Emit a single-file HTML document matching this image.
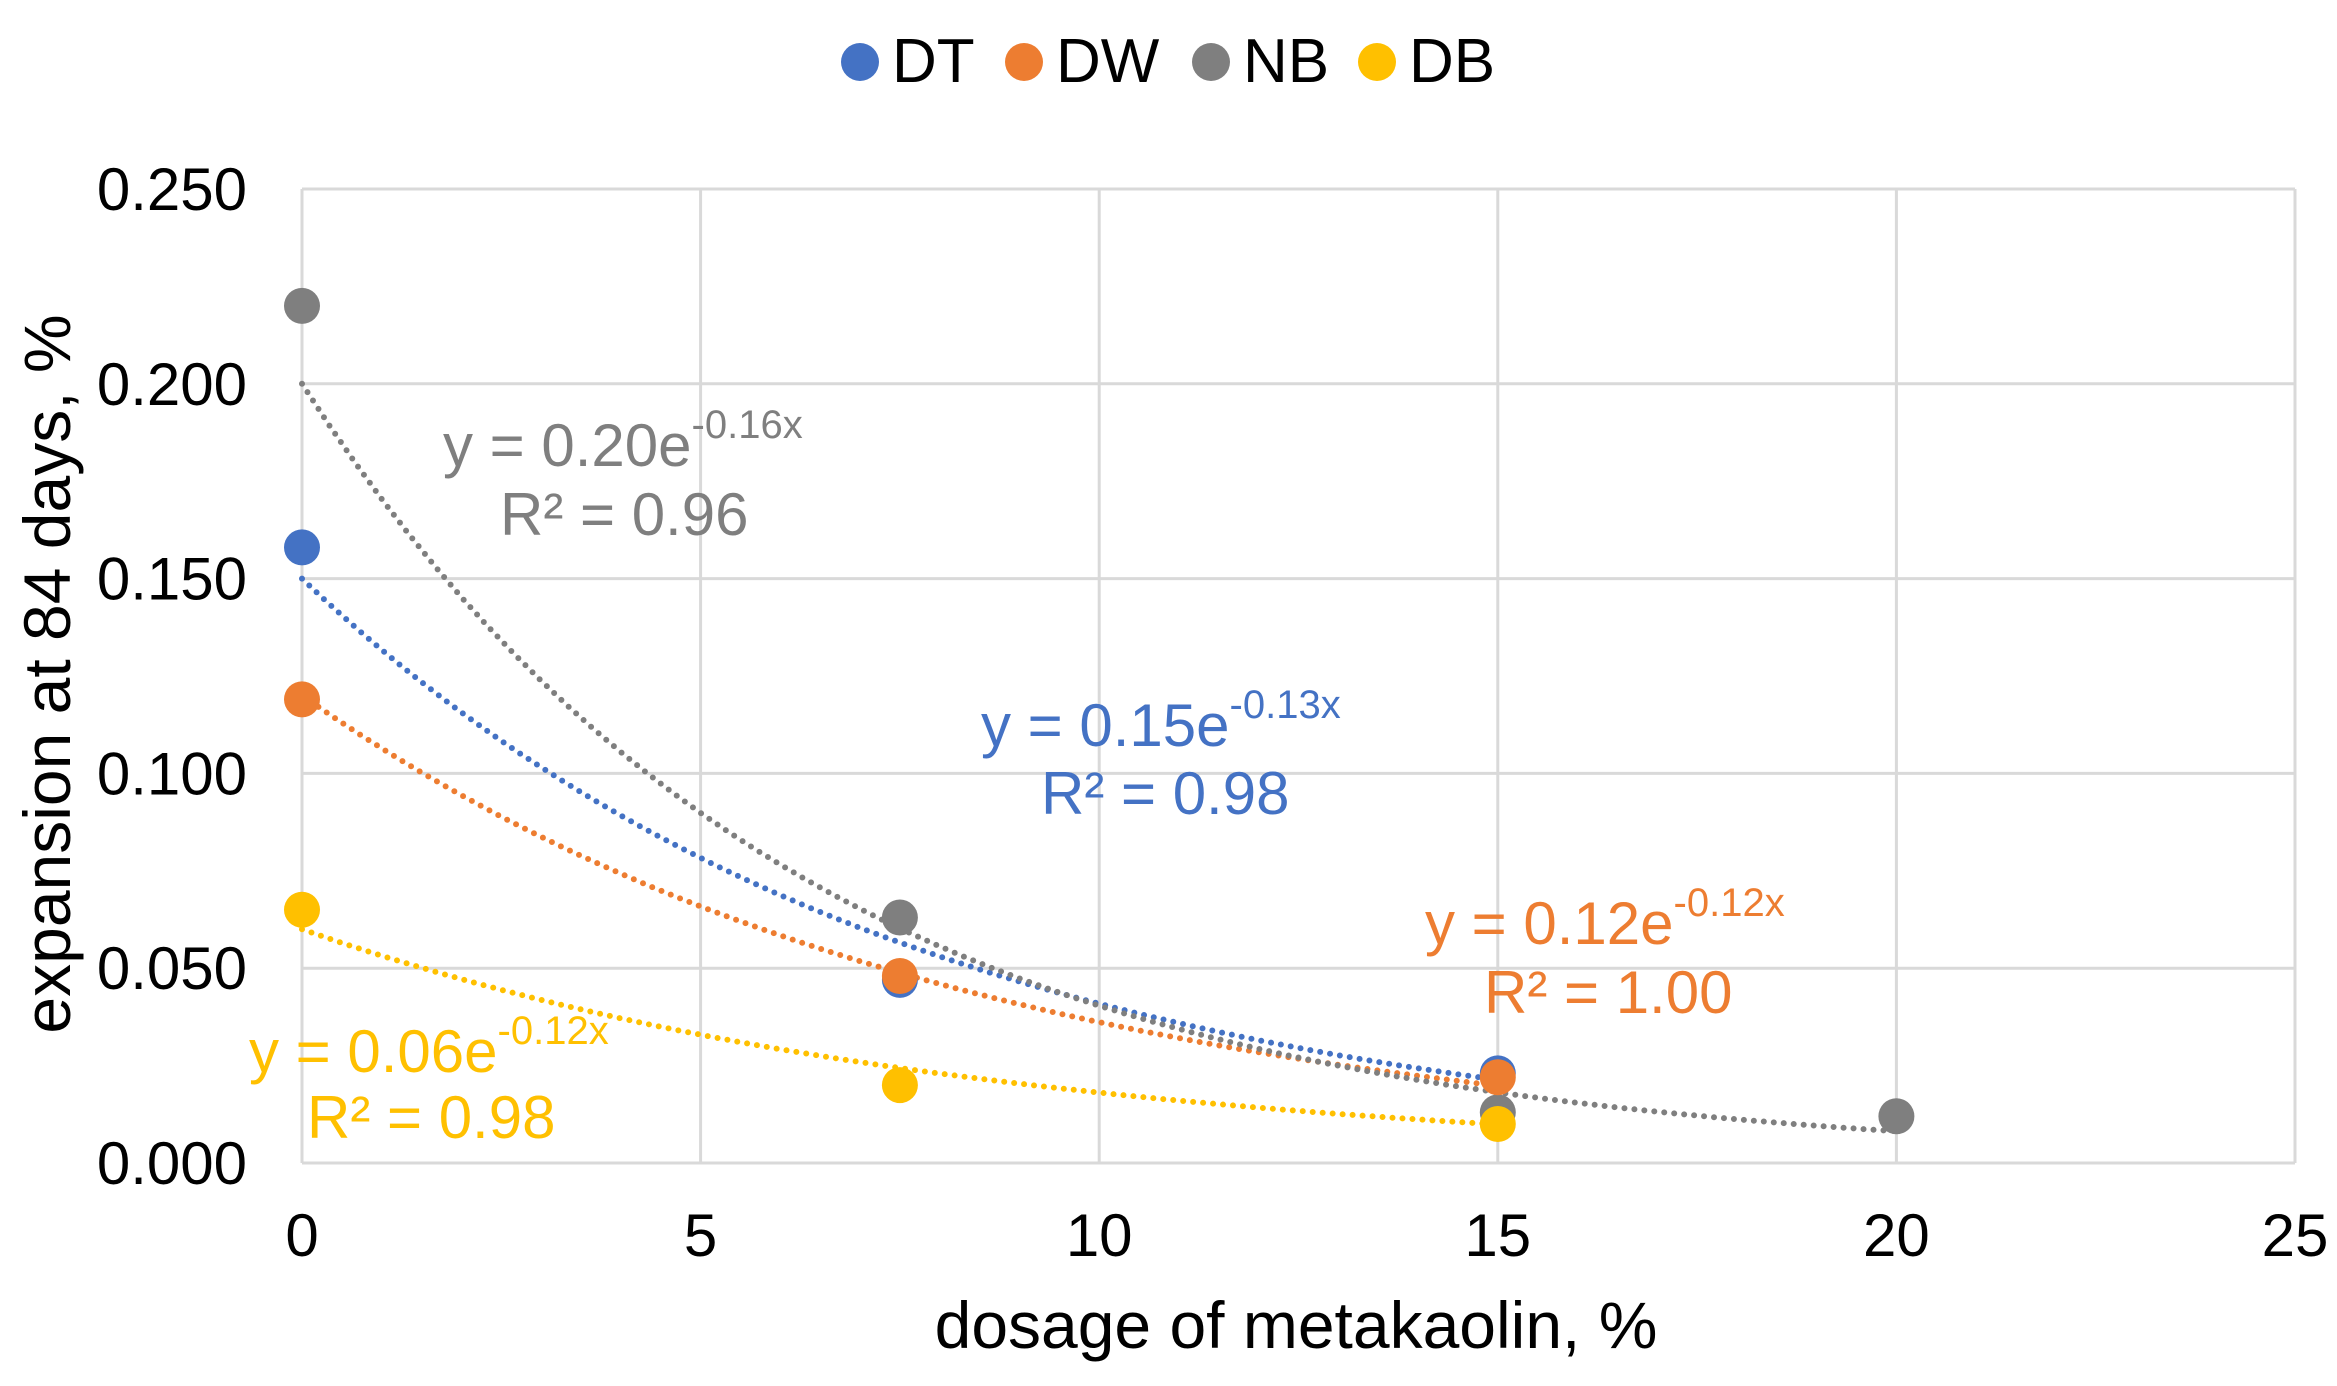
<!DOCTYPE html>
<html><head><meta charset="utf-8"><style>
html,body{margin:0;padding:0;background:#fff;}
svg{display:block;font-family:"Liberation Sans",Arial,sans-serif;}
</style></head><body>
<svg id="chart" width="2337" height="1386" viewBox="0 0 2337 1386" xmlns="http://www.w3.org/2000/svg">
<g id="grid"></g>
<g id="trends"></g>
<g id="points"></g>
<g id="ticks"></g>
<g id="legend"></g>
<text x="1296" y="1348" font-size="66" text-anchor="middle" fill="#000">dosage of metakaolin, %</text>
<text transform="translate(70,674) rotate(-90)" font-size="66" text-anchor="middle" fill="#000">expansion at 84 days, %</text>
<g fill="#7f7f7f" font-size="60">
<text x="443" y="466">y = 0.20e<tspan font-size="40" dy="-28">-0.16x</tspan></text>
<text x="500" y="535">R² = 0.96</text></g>
<g fill="#4472c4" font-size="60">
<text x="981" y="746">y = 0.15e<tspan font-size="40" dy="-28">-0.13x</tspan></text>
<text x="1041" y="814">R² = 0.98</text></g>
<g fill="#ed7d31" font-size="60">
<text x="1425" y="944">y = 0.12e<tspan font-size="40" dy="-28">-0.12x</tspan></text>
<text x="1484" y="1013">R² = 1.00</text></g>
<g fill="#ffc000" font-size="60">
<text x="249" y="1072">y = 0.06e<tspan font-size="40" dy="-28">-0.12x</tspan></text>
<text x="307" y="1138">R² = 0.98</text></g>
</svg>
<script>
const seriesNames = ["DT","DW","NB","DB"];
const seriesColors = ["#4472c4","#ed7d31","#7f7f7f","#ffc000"];
const xDT = [0,7.5,15];
const yDT = [0.158,0.047,0.023];
const xDW = [0,7.5,15];
const yDW = [0.119,0.048,0.022];
const xNB = [0,7.5,15,20];
const yNB = [0.220,0.063,0.013,0.012];
const xDB = [0,7.5,15];
const yDB = [0.065,0.020,0.010];
const trendA = [0.15,0.12,0.20,0.06];
const trendB = [-0.13,-0.12,-0.16,-0.12];
const trendXMax = [15,15,20,15];
const xTicks = [0,5,10,15,20,25];
const yTicks = [0,0.05,0.10,0.15,0.20,0.25];
const yTickLabels = ["0.000","0.050","0.100","0.150","0.200","0.250"];

const NS="http://www.w3.org/2000/svg";
const L=302,R=2295,T=189,B=1163;
const sx=v=>L+(v-0)/(25-0)*(R-L);
const sy=v=>B-(v-0)/(0.25-0)*(B-T);
function mk(tag,attrs,parent){const e=document.createElementNS(NS,tag);for(const k in attrs)e.setAttribute(k,attrs[k]);parent.appendChild(e);return e;}
const grid=document.getElementById('grid'),ticks=document.getElementById('ticks');
xTicks.forEach((t,i)=>{
  const ln=mk('line',{x1:sx(t),x2:sx(t),y1:T,y2:B,stroke:'#d9d9d9','stroke-width':3},grid);
  
  
  const tx=mk('text',{x:sx(t),y:1256,'font-size':60,'text-anchor':'middle',fill:'#000'},ticks);
  tx.textContent=String(t);
  
  
});
yTicks.forEach((t,i)=>{
  const ln=mk('line',{x1:L,x2:R,y1:sy(t),y2:sy(t),stroke:'#d9d9d9','stroke-width':3},grid);
  
  
  const tx=mk('text',{x:247,y:sy(t)+21,'font-size':60,'text-anchor':'end',fill:'#000'},ticks);
  tx.textContent=yTickLabels[i];
  
  
});
const xs=[xDT,xDW,xNB,xDB], ys=[yDT,yDW,yNB,yDB];
const trends=document.getElementById('trends'),pts=document.getElementById('points');
for(let s=0;s<4;s++){
  let d='';
  const n=60;
  for(let k=0;k<=n;k++){const x=trendXMax[s]*k/n;const y=trendA[s]*Math.exp(trendB[s]*x);d+=(k?'L':'M')+sx(x).toFixed(1)+' '+sy(y).toFixed(1);}
  const p=mk('path',{d:d,fill:'none',stroke:seriesColors[s],'stroke-width':6,'stroke-dasharray':'0 10','stroke-linecap':'round'},trends);
  
  
}
const order=[2,0,1,3];
order.forEach(s=>{
  xs[s].forEach((x,i)=>{
    const c=mk('circle',{cx:sx(x),cy:sy(ys[s][i]),r:18,fill:seriesColors[s]},pts);
    
    
  });
});
const legend=document.getElementById('legend');
const legCx=[860,1024,1211,1377];
seriesNames.forEach((nm,s)=>{
  const c=mk('circle',{cx:legCx[s],cy:62,r:19,fill:seriesColors[s]},legend);
  
  
  const t=mk('text',{x:legCx[s]+32,y:82,'font-size':62,fill:'#000'},legend);
  t.textContent=nm;
  
  
});
</script>
</body></html>
